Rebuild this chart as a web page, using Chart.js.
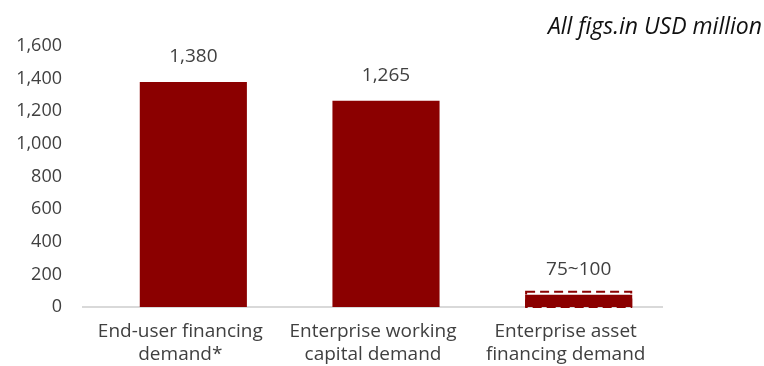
<!DOCTYPE html>
<html>
<head>
<meta charset="utf-8">
<script src="https://cdn.jsdelivr.net/npm/chart.js@4/dist/chart.umd.min.js"></script>
<style>
  html, body { margin: 0; padding: 0; background: #fff; }
  #wrap { width: 764px; height: 366px; position: relative; }
</style>
</head>
<body>
<div id="wrap"><canvas id="c" width="764" height="366"></canvas></div>
<script>
// ---- data ----
const categories = [
  ["End-user financing", "demand*"],
  ["Enterprise working", "capital demand"],
  ["Enterprise asset", "financing demand"]
];
const baseValues = [1380, 1265, 75];
const upperRangeValues = [null, null, 100];
const valueLabels = ["1,380", "1,265", "75~100"];
const yMin = 0, yMax = 1600, yStep = 200;
const unitNote = "All figs.in USD million";

// ---- styles ----
const RED = "#8B0000";
const TEXT = "#404040";
const FONT = "'Open Sans', 'Noto Sans', sans-serif";

const extrasPlugin = {
  id: "extras",
  beforeDatasetsDraw(chart) {
    const ctx = chart.ctx, area = chart.chartArea;
    const y0 = chart.scales.y.getPixelForValue(0);
    ctx.save();
    ctx.strokeStyle = "#d9d9d9";
    ctx.lineWidth = 2;
    ctx.beginPath();
    ctx.moveTo(area.left - 15, y0);
    ctx.lineTo(area.right - 12, y0);
    ctx.stroke();
    ctx.restore();
  },
  afterDatasetsDraw(chart) {
    const ctx = chart.ctx;
    const solid = chart.getDatasetMeta(0).data;
    const upper = chart.getDatasetMeta(1).data;
    ctx.save();
    // dashed outline for upper range
    upper.forEach((bar, i) => {
      if (upperRangeValues[i] == null) return;
      const p = bar.getProps(["x", "y", "base", "width"], true);
      const l = p.x - p.width / 2 + 1, r = p.x + p.width / 2 - 1;
      ctx.strokeStyle = RED;
      ctx.lineWidth = 2;
      ctx.setLineDash([9, 5]);
      ctx.strokeRect(l, p.y + 1, r - l, p.base - p.y - 1);
    });
    ctx.setLineDash([]);
    // value labels
    ctx.fillStyle = TEXT;
    ctx.font = "19px " + FONT;
    ctx.textAlign = "center";
    ctx.textBaseline = "middle";
    solid.forEach((bar, i) => {
      const p = bar.getProps(["x", "y"], true);
      ctx.fillText(valueLabels[i], p.x, p.y - 25);
    });
    // unit note
    ctx.fillStyle = "#111";
    ctx.font = "italic 23px " + FONT;
    ctx.textAlign = "right";
    ctx.fillText(unitNote, 762, 27);
    ctx.restore();
  }
};

new Chart(document.getElementById("c"), {
  type: "bar",
  data: {
    labels: categories,
    datasets: [
      {
        data: baseValues,
        backgroundColor: RED,
        borderWidth: 0,
        grouped: false,
        order: 1
      },
      {
        data: upperRangeValues,
        backgroundColor: "rgba(0,0,0,0)",
        borderWidth: 0,
        grouped: false,
        order: 2
      }
    ]
  },
  options: {
    responsive: false,
    animation: false,
    events: [],
    layout: { padding: { top: 46, right: 89, bottom: 0, left: 0 } },
    categoryPercentage: 1,
    barPercentage: 0.556,
    plugins: { legend: { display: false }, tooltip: { enabled: false } },
    scales: {
      x: {
        grid: { display: false, drawTicks: false },
        border: { display: false },
        ticks: {
          color: TEXT,
          font: { family: FONT, size: 19, lineHeight: 1.2 },
          padding: 13,
          labelOffset: -13,
          maxRotation: 0,
          autoSkip: false
        },
        afterFit(scale) { scale.height = 59; }
      },
      y: {
        min: yMin,
        max: yMax,
        grid: { display: false, drawTicks: false },
        border: { display: false },
        ticks: {
          stepSize: yStep,
          color: TEXT,
          font: { family: FONT, size: 18 },
          padding: 35
        },
        afterFit(scale) { scale.width = 97; }
      }
    }
  },
  plugins: [extrasPlugin]
});
</script>
</body>
</html>
